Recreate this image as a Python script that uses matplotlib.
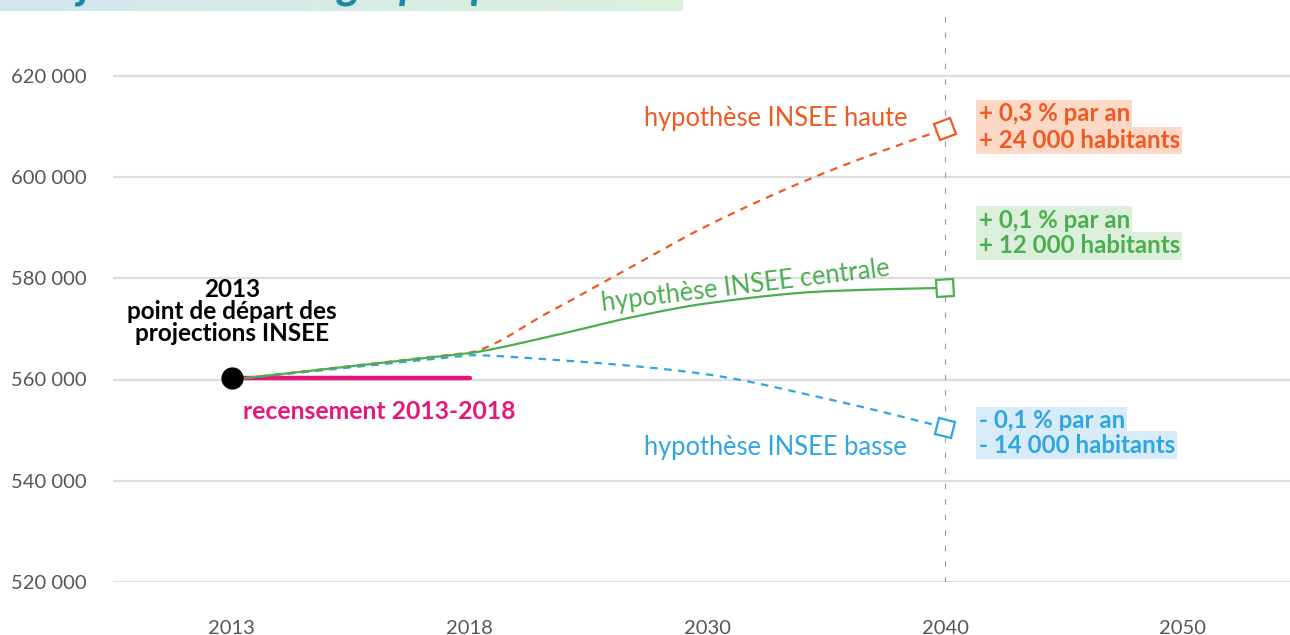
import numpy as np
import matplotlib
matplotlib.use("Agg")
import matplotlib.pyplot as plt
from matplotlib.markers import MarkerStyle
from matplotlib.transforms import Affine2D
from matplotlib.colors import LinearSegmentedColormap

plt.rcParams['font.family'] = ['Lato', 'DejaVu Sans']

# ---------------- data ----------------
tick_years = [2013, 2018, 2030, 2040, 2050]
years = ["2013", "2018", "2030", "2040", "2050"]
yticks = [520000, 540000, 560000, 580000, 600000, 620000]
ytick_labels = ["520 000", "540 000", "560 000", "580 000", "600 000", "620 000"]

proj_years = [2013, 2018, 2022, 2026, 2030, 2035, 2040]
haute    = [560000, 565300, 573300, 581900, 590400, 600950, 609500]
centrale = [560000, 565200, 568450, 572150, 575050, 577430, 578100]
basse    = [560000, 564800, 563950, 562750, 561000, 556200, 550500]

census_years = [2013, 2018]
census = [560200, 560200]
start_year = 2013
start_value = 560200

# the x axis is a piecewise-linear year scale (equal spacing between ticks)
def xpos(yr):
    return np.interp(yr, tick_years, np.arange(len(tick_years)))

# ---------------- helpers ----------------
def monotone_curve(x, y, n=120):
    """Monotone cubic (Fritsch-Carlson) path; first segment drawn straight."""
    x = np.asarray(x, float); y = np.asarray(y, float)
    h = np.diff(x); d = np.diff(y) / h
    m = np.zeros_like(y)
    for i in range(1, len(x) - 1):
        if d[i - 1] * d[i] <= 0:
            m[i] = 0
        else:
            m[i] = 3 * (h[i-1] + h[i]) / ((2*h[i] + h[i-1]) / d[i-1] + (h[i] + 2*h[i-1]) / d[i])
    m[0] = d[0]
    m[-1] = (3 * d[-1] - m[-2]) / 2
    xs, ys = [], []
    for i in range(len(x) - 1):
        t = np.linspace(0, 1, n)
        if i == 0:
            yy = y[0] + t * (y[1] - y[0])
        else:
            h00 = 2*t**3 - 3*t**2 + 1; h10 = t**3 - 2*t**2 + t
            h01 = -2*t**3 + 3*t**2; h11 = t**3 - t**2
            yy = h00*y[i] + h10*h[i]*m[i] + h01*y[i+1] + h11*h[i]*m[i+1]
        xx = x[i] + t*h[i]
        xs.append(xx if i == 0 else xx[1:]); ys.append(yy if i == 0 else yy[1:])
    return np.concatenate(xs), np.concatenate(ys)

# ---------------- figure ----------------
W, H = 1290, 635
fig = plt.figure(figsize=(W/100, H/100), dpi=100)
ax = fig.add_axes([113/W, 1 - 582/H, 1 - 113/W, (582 - 15)/H])
ax.set_xlim(-0.5, 4.45)
ax.set_ylim(520000, 632000)

for s in ax.spines.values():
    s.set_visible(False)
ax.set_yticks(yticks)
ax.set_yticklabels(ytick_labels)
ax.set_xticks(xpos(tick_years))
ax.set_xticklabels(years)
ax.tick_params(length=0, labelsize=14.5, colors="#555555")
ax.tick_params(axis="y", pad=19)
ax.tick_params(axis="x", pad=27.5)
ax.grid(axis="y", color="#dddddd", linewidth=1.6)
ax.set_axisbelow(True)

# vertical 2040 dashed line
ax.axvline(xpos(2040), color="#999999", linewidth=0.8, linestyle=(0, (5, 9)), zorder=1)

c_or = "#f05a22"
c_gr = "#4bae4f"
c_bl = "#2ea7e0"
c_mg = "#e6177a"

# census
ax.plot(xpos(census_years), census, color=c_mg, linewidth=3.2,
        solid_capstyle="round", zorder=3)

fig.canvas.draw()

def end_angle(xs, ys):
    p = ax.transData.transform(np.column_stack([xs[-6:], ys[-6:]]))
    return np.degrees(np.arctan2(p[-1, 1] - p[0, 1], p[-1, 0] - p[0, 0]))

px = xpos(proj_years)
for vals, col, ls, z in [(basse, c_bl, (0, (3.4, 2.9)), 4),
                         (haute, c_or, (0, (3.4, 2.9)), 4),
                         (centrale, c_gr, "-", 5)]:
    xs, ys = monotone_curve(px, vals)
    ax.plot(xs, ys, color=col, linewidth=1.6, linestyle=ls, zorder=z)
    ang = end_angle(xs, ys)
    mk = MarkerStyle("s", transform=Affine2D().rotate_deg(ang))
    ax.plot([px[-1]], [vals[-1]], marker=mk, markersize=12,
            markerfacecolor="white", markeredgecolor=col, markeredgewidth=1.6,
            linestyle="none", zorder=6)

# starting point
ax.plot([xpos(start_year)], [start_value], marker="o", markersize=15,
        color="black", zorder=7)

# labels
ax.text(2.84, 611500, "hypothèse INSEE haute", color=c_or, fontsize=18.4,
        ha="right", va="center")
ax.text(2.84, 546500, "hypothèse INSEE basse", color=c_bl, fontsize=18.4,
        ha="right", va="center")
ax.text(2.16, 578400, "hypothèse INSEE centrale", color=c_gr, fontsize=18.4,
        ha="center", va="center", rotation=7, rotation_mode="anchor")
ax.text(0.046, 553700, "recensement 2013-2018", color=c_mg, fontsize=17.8,
        fontweight="bold", ha="left", va="center")
ax.text(0.0, 573400, "2013\npoint de départ des\nprojections INSEE", color="black",
        fontsize=17.5, fontweight="bold", ha="center", va="center", linespacing=0.95)

def box_lines(y1, y2, l1, l2, col, bg):
    for yy, tt in [(y1, l1), (y2, l2)]:
        ax.text(3.14, yy, tt, color=col, fontsize=17.3, fontweight="bold",
                ha="left", va="center",
                bbox=dict(boxstyle="square,pad=0.1", facecolor=bg, edgecolor="none"))

box_lines(612500, 607200, "+ 0,3 % par an", "+ 24 000 habitants", c_or, "#fcd9c7")
box_lines(591500, 586400, "+ 0,1 % par an", "+ 12 000 habitants", c_gr, "#dcefdc")
box_lines(551900, 547000, "- 0,1 % par an", "- 14 000 habitants", c_bl, "#d8ebf8")

# top banner (cut-off title)
grad = LinearSegmentedColormap.from_list("g", ["#d2e5ee", "#dcf0dd"])
bax = fig.add_axes([0, 1 - 11/H, 683/W, 11/H])
bax.imshow(np.linspace(0, 1, 256)[None, :], aspect="auto", cmap=grad,
           extent=[0, 1, 0, 1])
bax.axis("off")
fig.text(14/W, 1 + 1/H, "Projections démographiques", color="#1a8aa0",
         fontsize=32, fontweight="bold", fontstyle="italic", ha="left",
         va="baseline")

fig.savefig("out.png", dpi=100)
